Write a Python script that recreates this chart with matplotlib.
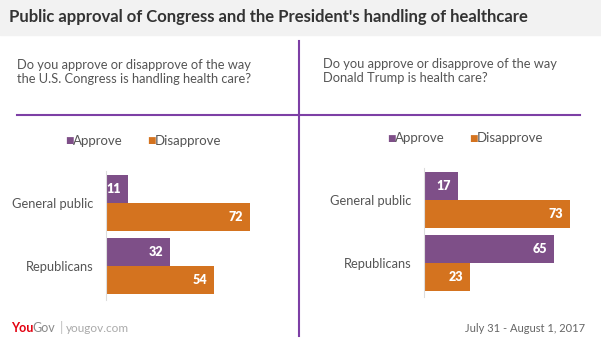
import matplotlib
matplotlib.use('Agg')
import matplotlib.pyplot as plt
import numpy as np

# Dữ liệu
groups = ['General public', 'Republicans']
series = ['Approve', 'Disapprove']
congress_approve = [11, 32]
congress_disapprove = [72, 54]
trump_approve = [17, 65]
trump_disapprove = [73, 23]

title = "Public approval of Congress and the President's handling of healthcare"
question_left = 'Do you approve or disapprove of the way\nthe U.S. Congress is handling health care?'
question_right = 'Do you approve or disapprove of the way\nDonald Trump is health care?'
date_text = 'July 31 - August 1, 2017'

purple = '#7e4f88'
orange = '#d4731f'
line_purple = '#7d3fa5'
grey_text = '#555555'

plt.rcParams['font.family'] = ['Lato', 'DejaVu Sans']

W, H = 601, 338
fig = plt.figure(figsize=(W / 100, H / 100), dpi=100)


def fx(x):
    return x / W


def fy(y):
    return 1 - y / H


# Dải tiêu đề màu xám
fig.patches.append(plt.Rectangle((0, fy(35)), 1, 35 / H, transform=fig.transFigure,
                                 color='#f2f2f2', zorder=0))
fig.text(fx(9), fy(17), title, fontsize=12, fontweight='bold', color='#333333',
         va='center', ha='left')

# Đường kẻ phân chia
fig.add_artist(plt.Line2D([fx(299), fx(299)], [fy(41), fy(336)], color=line_purple, lw=1.5))
fig.add_artist(plt.Line2D([fx(17), fx(299)], [fy(115), fy(115)], color=line_purple, lw=1.5))
fig.add_artist(plt.Line2D([fx(299), fx(580)], [fy(115), fy(115)], color=line_purple, lw=1.5))

# Câu hỏi
fig.text(fx(17), fy(72), question_left, fontsize=9.3, color=grey_text, va='center',
         ha='left', linespacing=1.2)
fig.text(fx(323), fy(71), question_right, fontsize=9.3, color=grey_text, va='center',
         ha='left', linespacing=1.2)


def panel(x0, x1, top, bottom, approve, disapprove, leg_x):
    ax = fig.add_axes([fx(x0), fy(bottom), (x1 - x0) / W, (bottom - top) / H])
    ax.set_xlim(0, (x1 - x0) / 2)
    ax.set_ylim(1.54, -0.51)
    pos = np.arange(len(groups))
    h = 0.444
    b1 = ax.barh(pos - h / 2, approve, height=h, color=purple)
    b2 = ax.barh(pos + h / 2, disapprove, height=h, color=orange)
    for bars, vals in [(b1, approve), (b2, disapprove)]:
        for b, v in zip(bars, vals):
            ax.text(v - 3.5, b.get_y() + b.get_height() / 2, str(v), color='white',
                    fontsize=9, fontweight='heavy', ha='right', va='center')
    ax.set_yticks(pos)
    ax.set_yticklabels(groups, fontsize=9.3, color=grey_text)
    ax.tick_params(axis='y', length=0, pad=9)
    ax.set_xticks([])
    for s in ['top', 'right', 'bottom']:
        ax.spines[s].set_visible(False)
    ax.spines['left'].set_color('#dddddd')
    ax.spines['left'].set_linewidth(0.8)
    ax.patch.set_alpha(0)

    # Chú thích
    ly = top - 30
    fig.text(fx(leg_x), fy(ly), '\u25a0', color=purple, fontsize=6.5, va='center', ha='left',
             family=['DejaVu Sans'])
    fig.text(fx(leg_x + 8), fy(ly), series[0], color=grey_text, fontsize=9.5, va='center',
             ha='left')
    fig.text(fx(leg_x + 82), fy(ly), '\u25a0', color=orange, fontsize=6.5, va='center', ha='left',
             family=['DejaVu Sans'])
    fig.text(fx(leg_x + 90), fy(ly), series[1], color=grey_text, fontsize=9.5, va='center',
             ha='left')


panel(106, 296, 171, 300, congress_approve, congress_disapprove, 65)
panel(424, 596, 168, 297, trump_approve, trump_disapprove, 387)

# Chân trang
fy_foot = fy(328)
fig.text(fx(11), fy_foot, 'You', color='#e3000f', fontsize=9, fontweight='bold',
         va='center', ha='left')
fig.text(fx(32), fy_foot, 'Gov', color='#8a8a8a', fontsize=9, va='center', ha='left')
fig.text(fx(60), fy_foot, '|', color='#bbbbbb', fontsize=9.5, va='center', ha='left')
fig.text(fx(66), fy_foot, 'yougov.com', color='#aaaaaa', fontsize=8.5, va='center', ha='left')
fig.text(fx(585), fy_foot, date_text, color='#666666', fontsize=8, va='center', ha='right')

plt.savefig('out.png', dpi=100)
